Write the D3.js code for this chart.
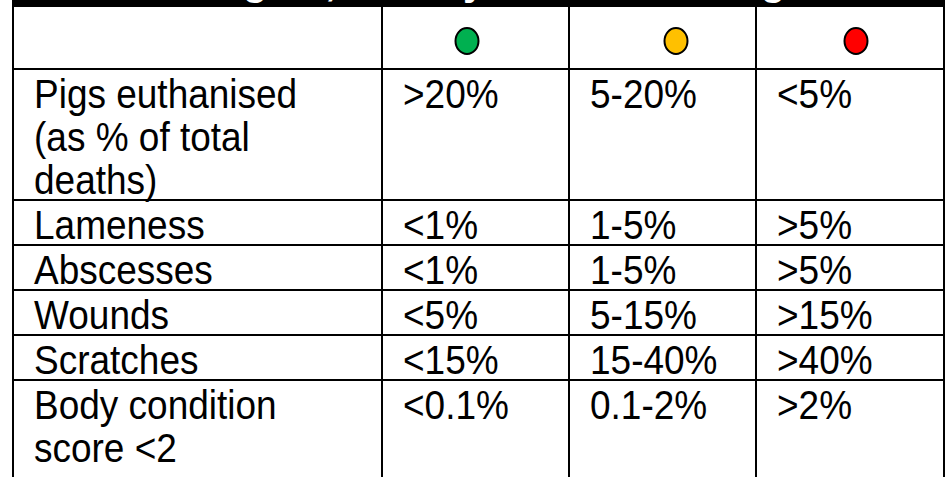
<!DOCTYPE html>
<html>
<head>
<meta charset="utf-8">
<script src="https://cdn.jsdelivr.net/npm/d3@7"></script>
<style>
  body { margin: 0; background: #fff; }
  svg { display: block; font-family: "Liberation Sans", Arial, sans-serif; }
</style>
</head>
<body>
<div id="chart"></div>
<script>
// table content
const title = 'Welfare targets, the key outcome ratings';
const ratings = ['green', 'amber', 'red'];
const ratingColours = ['#00B050', '#FFC000', '#FF0000'];
const measures = [
  ['Pigs euthanised', '(as % of total', 'deaths)'],
  ['Lameness'],
  ['Abscesses'],
  ['Wounds'],
  ['Scratches'],
  ['Body condition', 'score <2']
];
const greenValues = ['>20%', '<1%', '<1%', '<5%', '<15%', '<0.1%'];
const amberValues = ['5-20%', '1-5%', '1-5%', '5-15%', '15-40%', '0.1-2%'];
const redValues = ['<5%', '>5%', '>5%', '>15%', '>40%', '>2%'];

const width = 945;
const height = 477;
const fontSize = 37;
const stretchY = 1.12;  // the source slide is a little stretched in height
const lineHeight = 43;
const firstBaseline = 39;
const padBottom = 6;
const padLeft = 21;
const headTop = 7;   // bottom of the black title band
const dotRowH = 62;

// column edges (label column + three rating columns)
const colEdges = [13, 382, 569, 756, 944];
// the dots do not sit dead centre in their cells
const dotOffsets = [85, 107, 100];

const svg = d3.select('#chart').append('svg')
  .attr('width', width)
  .attr('height', height);

// row tops built from how many lines each label needs
const rowTops = [];
let y = headTop + dotRowH;
measures.forEach((m) => {
  rowTops.push(y);
  y += firstBaseline + (m.length - 1) * lineHeight + padBottom;
});
const tableBottom = y;

const colScale = d3.scaleOrdinal().domain(['label'].concat(ratings))
  .range(colEdges.slice(0, 4));

// title band, only the bottom of it is left in the frame
svg.append('rect')
  .attr('x', colEdges[0] - 1).attr('y', -60)
  .attr('width', width - colEdges[0] + 1).attr('height', 60 + headTop)
  .attr('fill', '#000');
svg.append('text')
  .attr('x', 37).attr('y', -5)
  .attr('fill', '#fff')
  .attr('font-weight', 'bold')
  .attr('font-size', 40)
  .text(title);

// dots row
svg.selectAll('ellipse.dot')
  .data(ratings)
  .join('ellipse')
  .attr('class', 'dot')
  .attr('cx', (d, i) => colScale(d) + dotOffsets[i])
  .attr('cy', 41)
  .attr('rx', 11.5)
  .attr('ry', 13)
  .attr('fill', (d, i) => ratingColours[i])
  .attr('stroke', '#000')
  .attr('stroke-width', 2);

// grid lines
const grid = svg.append('g').attr('stroke', '#000').attr('stroke-width', 2);
grid.selectAll('line.h')
  .data([headTop + dotRowH].concat(rowTops.slice(1)))
  .join('line')
  .attr('class', 'h')
  .attr('x1', colEdges[0]).attr('x2', colEdges[4] + 1)
  .attr('y1', (d) => d).attr('y2', (d) => d);
grid.selectAll('line.v')
  .data(colEdges)
  .join('line')
  .attr('class', 'v')
  .attr('x1', (d) => d).attr('x2', (d) => d)
  .attr('y1', headTop).attr('y2', tableBottom + 40);

// cell text
const cols = [measures, greenValues.map((v) => [v]), amberValues.map((v) => [v]), redValues.map((v) => [v])];
const keys = ['label'].concat(ratings);
cols.forEach((col, ci) => {
  const g = svg.append('g')
    .attr('font-size', fontSize)
    .attr('fill', '#000');
  col.forEach((lines, ri) => {
    g.selectAll(null)
      .data(lines)
      .join('text')
      .attr('transform', (d, li) => {
        const tx = colScale(keys[ci]) + padLeft;
        const ty = rowTops[ri] + firstBaseline + li * lineHeight;
        return `translate(${tx},${ty}) scale(1,${stretchY})`;
      })
      .text((d) => d);
  });
});
</script>
</body>
</html>
